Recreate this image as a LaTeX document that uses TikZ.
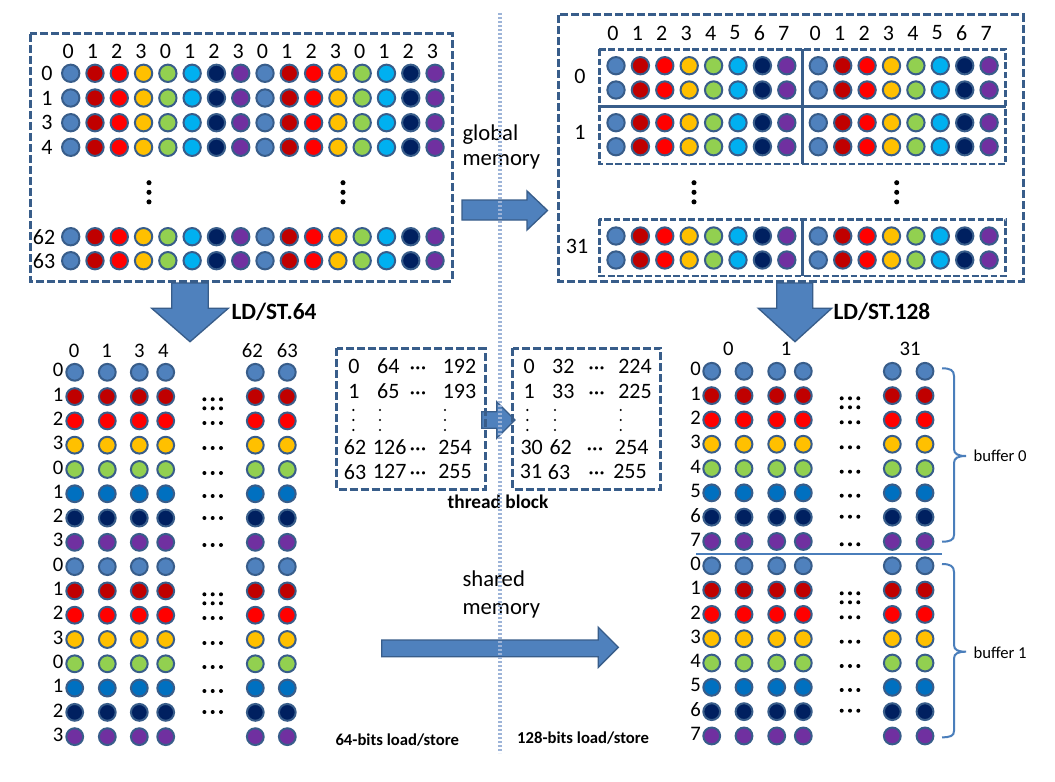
\documentclass[tikz,border=0pt]{standalone}
\usepackage{fontspec}
\setmainfont{Carlito}

\definecolor{beadEdge}{HTML}{385D8A}
\definecolor{arrowBlue}{HTML}{4F81BD}
\definecolor{sepBlue}{HTML}{4A7EBB}
\definecolor{gridLine}{HTML}{9DB4D8}
\definecolor{bSteel}{HTML}{4F81BD}
\definecolor{bMaroon}{HTML}{C00000}
\definecolor{bRed}{HTML}{FF0000}
\definecolor{bGold}{HTML}{FFC000}
\definecolor{bLime}{HTML}{92D050}
\definecolor{bSky}{HTML}{00B0F0}
\definecolor{bOcean}{HTML}{0070C0}
\definecolor{bNavy}{HTML}{002060}
\definecolor{bPlum}{HTML}{7030A0}
% lane colours, global memory (top) and shared memory (bottom)
\colorlet{top0}{bSteel}\colorlet{top1}{bMaroon}\colorlet{top2}{bRed}\colorlet{top3}{bGold}
\colorlet{top4}{bLime}\colorlet{top5}{bSky}\colorlet{top6}{bNavy}\colorlet{top7}{bPlum}
\colorlet{bot0}{bSteel}\colorlet{bot1}{bMaroon}\colorlet{bot2}{bRed}\colorlet{bot3}{bGold}
\colorlet{bot4}{bLime}\colorlet{bot5}{bOcean}\colorlet{bot6}{bNavy}\colorlet{bot7}{bPlum}

\tikzset{every picture/.style={line width=0.75pt}}
\tikzset{
	bead/.style={draw=beadEdge, line width=1.5pt},
	memframe/.style={draw=beadEdge, line width=2.25pt, dash pattern=on 6pt off 2.25pt},
	subframe/.style={draw=beadEdge, line width=2pt, dash pattern=on 5pt off 2pt},
	divider/.style={draw=beadEdge, line width=2pt},
	blockarrow/.style={fill=arrowBlue, draw=beadEdge, line width=1pt},
	brace/.style={draw=sepBlue, line width=1.5pt},
	splitline/.style={draw=gridLine, line width=2.4pt, dash pattern=on 1.6pt off 1.4pt},
	idx/.style={inner sep=0pt, font=\fontsize{16.5}{19}\selectfont},
	idxsm/.style={inner sep=0pt, font=\fontsize{15.5}{18}\selectfont},
	memlabel/.style={inner sep=0pt, font=\fontsize{17}{20}\selectfont},
	opname/.style={inner sep=0pt, font=\bfseries\fontsize{17.5}{21}\selectfont},
	blocktag/.style={inner sep=0pt, font=\bfseries\fontsize{14.5}{17}\selectfont},
	smallnote/.style={inner sep=0pt, font=\bfseries\fontsize{12.5}{15}\selectfont},
	bufname/.style={inner sep=0pt, font=\fontsize{12.5}{15}\selectfont}
}
\newcommand{\beadvdots}[2]{\foreach \d in {0,1,2} \fill (#1,#2+9.6*\d) circle[radius=1.9pt];}
\newcommand{\beadhdots}[2]{\foreach \d in {0,1,2} \fill (#1-8.3+8.3*\d,#2) circle[radius=1.5pt];}
\newcommand{\tabvdots}[2]{\foreach \d in {0,1,2} \fill (#1,#2+10*\d) circle[radius=0.9pt];}

\begin{document}
\begin{tikzpicture}[x=0.75pt,y=0.75pt,yscale=-1]
	\useasboundingbox (0,0) rectangle (1055,781);
	\fill[white] (0,0) rectangle (1055,781);

	% Global memory, 64-bit layout
	\draw[memframe] (30,34) rectangle (452,281);
	\foreach \i in {0,...,15}{
		\pgfmathtruncatemacro\c{mod(\i,8)}
		\pgfmathtruncatemacro\h{mod(\i,4)}
		\pgfmathsetmacro\x{70.7+24.29*\i}
		\node[idx] (gh\i) at (\x-2.5,51) {\h};
		\foreach \y in {73.3,98,122.7,147.3,236.7,260.7}
			\draw[bead,fill=top\c] (\x,\y) circle[radius=6.5pt];
	}
	\foreach \t/\y in {0/73.3,1/98,3/122.7,4/147.3}
		\node[idx] (gr\t) at (47,\y) {\t};
	\node[idx] (gr62) at (44,236.7) {62};
	\node[idx] (gr63) at (44,260.7) {63};
	\beadvdots{149}{182.7}
	\beadvdots{343}{182.7}

	% Global memory, 128-bit layout
	\draw[memframe] (558,15) rectangle (1023,281);
	\draw[subframe] (599.3,49.3) rectangle (1005.7,164);
	\draw[subframe] (599.3,219.3) rectangle (1005.7,276);
	\draw[divider] (599.3,106.7) -- (1005.7,106.7);
	\draw[divider] (802.7,49.3) -- (802.7,164);
	\draw[divider] (802.7,219.3) -- (802.7,276);
	\foreach \g in {0,1}
	\foreach \i in {0,...,7}{
		\pgfmathsetmacro\x{616+202.3*\g+24.4*\i}
		\node[idx] (wh\g\i) at (\x-3,33) {\i};
		\foreach \y in {65.7,90,122.7,146.7,236,260}
			\draw[bead,fill=top\i] (\x,\y) circle[radius=6.5pt];
	}
	\node[idx] (wr0) at (580,76) {0};
	\node[idx] (wr1) at (580,132) {1};
	\node[idx] (wr31) at (577,246.5) {31};
	\beadvdots{694}{182.7}
	\beadvdots{896.7}{182.7}

	% Block arrows
	\draw[blockarrow] (462,200) -- (527,200) -- (527,191) -- (547.5,210.5) -- (527,230) -- (527,220) -- (462,220) -- cycle;
	\draw[blockarrow] (171.7,283) -- (208.3,283) -- (208.3,308.3) -- (228.3,308.3) -- (190,341.7) -- (151.7,308.3) -- (171.7,308.3) -- cycle;
	\draw[blockarrow] (776.7,283) -- (812.7,283) -- (812.7,308.3) -- (831.7,308.3) -- (795,341.7) -- (758.3,308.3) -- (776.7,308.3) -- cycle;
	\draw[blockarrow] (481.7,411.7) -- (496.7,411.7) -- (496.7,401.7) -- (515,420) -- (496.7,438.3) -- (496.7,428.3) -- (481.7,428.3) -- cycle;
	\draw[blockarrow] (381.7,640) -- (598.3,640) -- (598.3,627.3) -- (618.3,647.3) -- (598.3,667.3) -- (598.3,656.7) -- (381.7,656.7) -- cycle;

	% Labels
	\node[memlabel, anchor=base west] (glob1) at (462,141) {global};
	\node[memlabel, anchor=base west] (glob2) at (462,165.5) {memory};
	\node[opname, anchor=base west] (ld64) at (231,319.3) {LD/ST.64};
	\node[opname, anchor=base west] (ld128) at (833,319.3) {LD/ST.128};
	\node[blocktag, anchor=base] (tblk) at (498,508.3) {thread block};
	\node[memlabel, anchor=base west] (shr1) at (462,586.7) {shared};
	\node[memlabel, anchor=base west] (shr2) at (462,614.3) {memory};
	\node[smallnote, anchor=base west] (ls64) at (335,745) {64-bits load/store};
	\node[smallnote, anchor=base west] (ls128) at (516.7,743.3) {128-bits load/store};
	\node[bufname, anchor=base west] (buf0) at (973,461.5) {buffer 0};
	\node[bufname, anchor=base west] (buf1) at (973,658.3) {buffer 1};

	% Thread block index tables
	\draw[memframe] (336.7,348.3) rectangle (485,489.3);
	\draw[memframe] (512.7,348.3) rectangle (660.7,489.3);
	\foreach \t/\x/\y [count=\k] in {0/354/366,64/388.3/366,192/459.5/366,1/354/391,65/388.3/391,193/459.5/391,
			62/355/447.3,126/389.7/447.3,254/455/447.3,63/355/471.7,127/389.7/471.7,255/455/471.7}
		\node[idx] (ta\k) at (\x,\y) {\t};
	\foreach \t/\x/\y [count=\k] in {0/529.3/366,32/563.3/366,224/635/366,1/529.3/391,33/563.3/391,225/635/391,
			30/531.7/447.3,62/560.7/447.3,254/631.7/447.3,31/531/471.7,63/559/471.7,255/630/471.7}
		\node[idx] (tb\k) at (\x,\y) {\t};
	\foreach \x/\y [count=\k] in {418/371,418/396,418/452,418/476,596.7/371,596.7/396,595/452,596.7/476}
		\node[idx] (td\k) at (\x,\y) {···};
	\foreach \x in {353.3,380,445,527.3,555,620.7}
		{\tabvdots{\x}{410}}

	% Shared memory, 64-bit layout
	\foreach \r in {0,...,15}{
		\pgfmathtruncatemacro\c{mod(\r,8)}
		\pgfmathtruncatemacro\h{mod(\r,4)}
		\pgfmathsetmacro\y{372.3+24.29*\r}
		\node[idxsm] (sl\r) at (58,\y-2) {\h};
		\foreach \x in {74.7,107.3,139.3,165.7,255.3,287.3}
			\draw[bead,fill=bot\c] (\x,\y) circle[radius=6.3pt];
	}
	\foreach \x/\t in {74/0,106.7/1,139.3/3,163.3/4,252.3/62,287.3/63}
		\node[idxsm] (sh\t) at (\x,350.7) {\t};
	\foreach \y in {399.3,408.3,423,448,473,496,518,545,594.3,603.3,618,643,667,691,712}
		{\beadhdots{212.7}{\y}}

	% Shared memory, 128-bit layout
	\foreach \r in {0,...,15}{
		\pgfmathtruncatemacro\c{mod(\r,8)}
		\pgfmathsetmacro\y{371.3+24.31*\r}
		\node[idxsm] (bl\r) at (695.5,\y-2) {\c};
		\foreach \x in {711.7,744,776.7,803.3,892.3,925}
			\draw[bead,fill=bot\c] (\x,\y) circle[radius=6.3pt];
	}
	\node[idxsm] (bh0) at (728.3,349.3) {0};
	\node[idxsm] (bh1) at (786,349.3) {1};
	\node[idxsm] (bh31) at (910,349.3) {31};
	\foreach \y in {398.3,407.3,422.3,447.3,471.7,495.7,516.7,544.3,593.3,602.3,617.3,641.7,666,690,710.7}
		{\beadhdots{850}{\y}}
	\draw[divider, draw=sepBlue] (696,554) -- (941.7,554);
	\draw[brace] (942,368.3) .. controls (950,368.3) and (954,370) .. (954,376) -- (954,449) .. controls (954,454) and (958,456) .. (966,456) .. controls (958,456) and (954,458) .. (954,463) -- (954,535) .. controls (954,540) and (950,541.7) .. (942,541.7);
	\draw[brace] (942,564) .. controls (950,564) and (954,566) .. (954,572) -- (954,645) .. controls (954,650) and (958,651.7) .. (966,651.7) .. controls (958,651.7) and (954,653.5) .. (954,658.5) -- (954,731) .. controls (954,736) and (950,737.3) .. (942,737.3);

	% Split between the two layouts
	\draw[splitline] (500,13) -- (500,753);
\end{tikzpicture}
\end{document}
